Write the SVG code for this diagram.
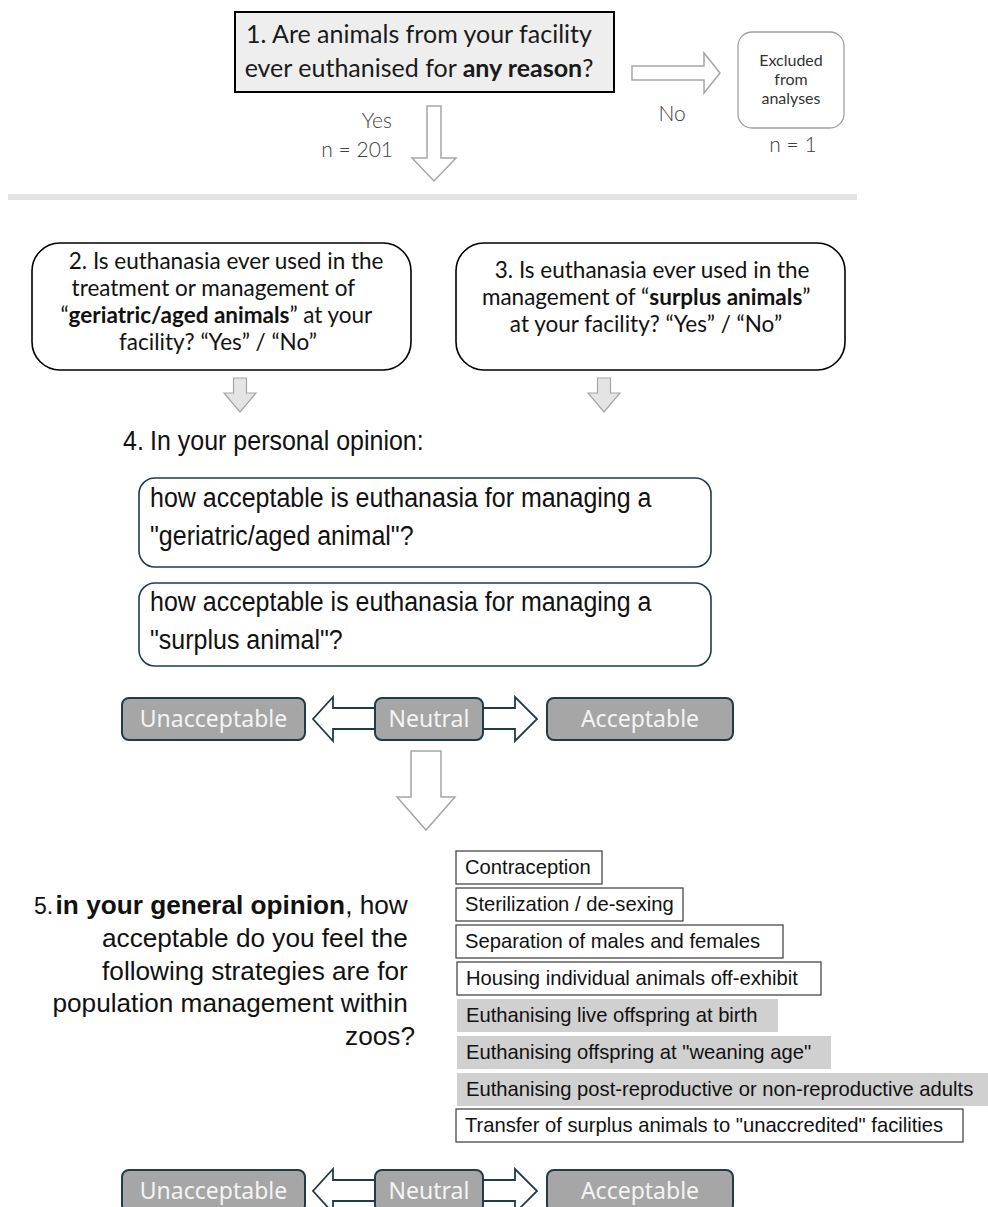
<svg xmlns="http://www.w3.org/2000/svg" width="988" height="1207" viewBox="0 0 988 1207">
<style>
.cal{font-family:Lato,"Open Sans","DejaVu Sans",sans-serif;}
.ari{font-family:"Liberation Sans",Arial,sans-serif;}
.lt{font-family:Lato,"Open Sans",sans-serif;font-weight:300;fill:#404040;}
.hollow{fill:#ffffff;stroke:#a6a6a6;stroke-width:1.5;}
.small{fill:#e4e4e4;stroke:#a6a6a6;stroke-width:1.2;}
.q{fill:#ffffff;stroke:#000000;stroke-width:1.6;}
.opt{fill:#ffffff;stroke:#1f3b4d;stroke-width:1.6;}
.scale{fill:#a6a6a6;stroke:#1f3b4d;stroke-width:2;}
.scaletxt{font-family:"Noto Sans","Open Sans",sans-serif;font-size:23px;fill:#f4f4f4;text-anchor:middle;}
.dbl{fill:#ffffff;stroke:#1f3b4d;stroke-width:1.8;stroke-linejoin:miter;}
.item{fill:#ffffff;stroke:#3a3a3a;stroke-width:1.2;}
.itemg{fill:#d0d0d0;stroke:none;}
.itxt{font-family:"Liberation Sans",Arial,sans-serif;font-size:20.2px;fill:#111;}
</style>

<g id="connectors">
  <polygon class="hollow" points="632,66 704,66 704,53 720,73 704,93 704,80 632,80"/>
  <polygon class="hollow" points="427,106 441,106 441,158 456,158 434,181 412,158 427,158"/>
  <polygon class="small" points="233.5,378 246.5,378 246.5,393 256,393 240,412 224,393 233.5,393"/>
  <polygon class="small" points="597.5,378 610.5,378 610.5,393 620,393 604,412 588,393 597.5,393"/>
  <polygon class="dbl" points="376,708 333,708 333,697 313,719 333,741 333,729 376,729"/>
  <polygon class="dbl" points="482,708 515,708 515,697 537,719 515,741 515,729 482,729"/>
  <polygon class="hollow" points="411,751 441,751 441,797 455,797 426,830 397,797 411,797"/>
  <polygon class="dbl" points="376,1180 333,1180 333,1169 313,1191 333,1213 333,1201 376,1201"/>
  <polygon class="dbl" points="482,1180 515,1180 515,1169 537,1191 515,1213 515,1201 482,1201"/>
</g>

<g id="separator">
  <line x1="8" y1="197" x2="857" y2="197" stroke="#e4e4e4" stroke-width="6"/>
</g>

<g id="q1">
  <rect x="235" y="12" width="379" height="80" fill="#eeeeee" stroke="#000" stroke-width="2"/>
  <text class="cal" x="419" y="43" font-size="25" text-anchor="middle" fill="#1a1a1a">1. Are animals from your facility</text>
  <text class="cal" x="419" y="77" font-size="25" text-anchor="middle" fill="#1a1a1a">ever euthanised for <tspan font-weight="bold">any reason</tspan>?</text>
</g>

<g id="yes-label">
  <text class="lt" x="392" y="128" font-size="21" text-anchor="end">Yes</text>
  <text class="lt" x="393" y="157" font-size="21" text-anchor="end">n = 201</text>
</g>

<g id="no-label">
  <text class="lt" x="672" y="121" font-size="21" text-anchor="middle">No</text>
</g>

<g id="excluded">
  <rect x="738" y="32" width="106" height="96" rx="14" fill="#fff" stroke="#a0a0a0" stroke-width="1.3"/>
  <text class="cal" x="791" y="66" font-size="16" text-anchor="middle" fill="#333">Excluded</text>
  <text class="cal" x="791" y="85" font-size="16" text-anchor="middle" fill="#333">from</text>
  <text class="cal" x="791" y="104" font-size="16" text-anchor="middle" fill="#333">analyses</text>
  <text class="lt" x="793" y="152" font-size="21" text-anchor="middle">n = 1</text>
</g>

<g id="q2">
  <rect class="q" x="32" y="243" width="379" height="127" rx="28"/>
  <text class="cal" font-size="22.5" text-anchor="middle" fill="#111">
    <tspan x="229" y="269">2. Is euthanasia ever used in the</tspan>
    <tspan x="216" y="296">treatment or management of</tspan>
    <tspan x="219" y="323">“<tspan font-weight="bold">geriatric/aged animals</tspan>”  at your</tspan>
    <tspan x="218" y="350">facility? “Yes” / “No”</tspan>
  </text>
</g>

<g id="q3">
  <rect class="q" x="456" y="243" width="389" height="127" rx="28"/>
  <text class="cal" font-size="22.5" text-anchor="middle" fill="#111">
    <tspan x="655" y="278">3. Is euthanasia ever used in the</tspan>
    <tspan x="649" y="305">management of “<tspan font-weight="bold">surplus animals</tspan>”</tspan>
    <tspan x="646" y="332">at your facility? “Yes” / “No”</tspan>
  </text>
</g>

<g id="q4">
  <text class="ari" x="123" y="450" font-size="25" fill="#111" transform="matrix(1,0,0,1.12,0,-54)">4.</text>
  <text class="ari" x="150" y="450" font-size="25" fill="#111" transform="matrix(1,0,0,1.12,0,-54)">In your personal opinion:</text>
</g>

<g id="q4a">
  <rect class="opt" x="139" y="478" width="572" height="89" rx="16"/>
  <text class="ari" x="150" y="507" font-size="25" fill="#111" transform="matrix(1,0,0,1.12,0,-60.84)">how acceptable is euthanasia for managing a</text>
  <text class="ari" x="150" y="545" font-size="25" fill="#111" transform="matrix(1,0,0,1.12,0,-65.4)">"geriatric/aged animal"?</text>
</g>

<g id="q4b">
  <rect class="opt" x="139" y="583" width="572" height="83" rx="16"/>
  <text class="ari" x="150" y="611" font-size="25" fill="#111" transform="matrix(1,0,0,1.12,0,-73.32)">how acceptable is euthanasia for managing a</text>
  <text class="ari" x="150" y="649" font-size="25" fill="#111" transform="matrix(1,0,0,1.12,0,-77.88)">"surplus animal"?</text>
</g>

<g id="scale1-unacceptable">
  <rect class="scale" x="122" y="698" width="183" height="42" rx="7"/>
  <text class="scaletxt" x="213.5" y="727">Unacceptable</text>
</g>
<g id="scale1-neutral">
  <rect class="scale" x="375" y="698" width="108" height="42" rx="7"/>
  <text class="scaletxt" x="429" y="727">Neutral</text>
</g>
<g id="scale1-acceptable">
  <rect class="scale" x="547" y="698" width="186" height="42" rx="7"/>
  <text class="scaletxt" x="640" y="727">Acceptable</text>
</g>

<g id="q5">
  <text class="ari" x="34" y="914" font-size="23" fill="#111">5.</text>
  <text class="ari" font-size="26.2" fill="#111" text-anchor="end">
    <tspan x="415" y="914"><tspan font-weight="bold">in your general opinion</tspan>, how</tspan>
    <tspan x="415" y="947">acceptable do you feel the</tspan>
    <tspan x="415" y="980">following strategies are for</tspan>
    <tspan x="415" y="1012">population management within</tspan>
    <tspan x="415" y="1045">zoos?</tspan>
  </text>
</g>

<g id="opt-contraception">
  <rect class="item" x="456" y="851" width="146" height="33"/>
  <text class="itxt" x="465" y="874">Contraception</text>
</g>
<g id="opt-sterilization">
  <rect class="item" x="456" y="888" width="227" height="33"/>
  <text class="itxt" x="465" y="911">Sterilization / de-sexing</text>
</g>
<g id="opt-separation">
  <rect class="item" x="456" y="925" width="327" height="33"/>
  <text class="itxt" x="465" y="948">Separation of males and females</text>
</g>
<g id="opt-housing">
  <rect class="item" x="457" y="962" width="364" height="33"/>
  <text class="itxt" x="466" y="985">Housing individual animals off-exhibit</text>
</g>
<g id="opt-birth">
  <rect class="itemg" x="457" y="999" width="321" height="33"/>
  <text class="itxt" x="466" y="1022">Euthanising live offspring at birth</text>
</g>
<g id="opt-weaning">
  <rect class="itemg" x="457" y="1036" width="374" height="33"/>
  <text class="itxt" x="466" y="1059">Euthanising offspring at "weaning age"</text>
</g>
<g id="opt-adults">
  <rect class="itemg" x="457" y="1073" width="531" height="33"/>
  <text class="itxt" x="466" y="1096">Euthanising post-reproductive or non-reproductive adults</text>
</g>
<g id="opt-transfer">
  <rect class="item" x="456" y="1109" width="507" height="33"/>
  <text class="itxt" x="465" y="1132">Transfer of surplus animals to "unaccredited" facilities</text>
</g>

<g id="scale2-unacceptable">
  <rect class="scale" x="122" y="1170" width="183" height="42" rx="7"/>
  <text class="scaletxt" x="213.5" y="1199">Unacceptable</text>
</g>
<g id="scale2-neutral">
  <rect class="scale" x="375" y="1170" width="108" height="42" rx="7"/>
  <text class="scaletxt" x="429" y="1199">Neutral</text>
</g>
<g id="scale2-acceptable">
  <rect class="scale" x="547" y="1170" width="186" height="42" rx="7"/>
  <text class="scaletxt" x="640" y="1199">Acceptable</text>
</g>
</svg>
